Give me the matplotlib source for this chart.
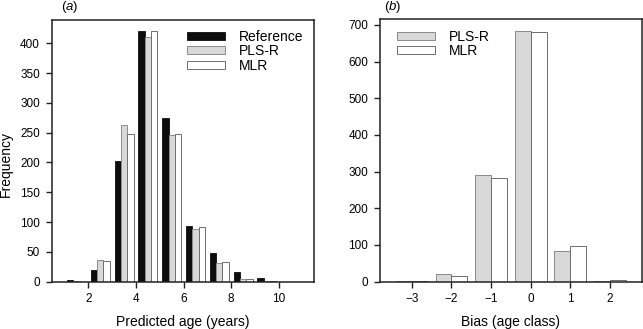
import numpy as np
import matplotlib
matplotlib.use("Agg")
import matplotlib.pyplot as plt

plt.rcParams['font.family'] = ['Liberation Sans', 'DejaVu Sans']
plt.rcParams['mathtext.fontset'] = 'custom'
plt.rcParams['mathtext.rm'] = 'Liberation Sans'
plt.rcParams['mathtext.it'] = 'Liberation Sans:italic'

# (a) predicted age histogram
ages = [1, 2, 3, 4, 5, 6, 7, 8, 9, 10]
ref_counts = [3, 19, 202, 420, 275, 93, 48, 16, 7, 0]
pls_counts = [1, 37, 263, 410, 246, 88, 32, 5, 1, 0]
mlr_counts = [0, 35, 248, 421, 247, 92, 33, 5, 1, 0]
age_ticks = [2, 4, 6, 8, 10]
freq_ticks = [0, 50, 100, 150, 200, 250, 300, 350, 400]

# (b) bias
bias = [-3, -2, -1, 0, 1, 2]
pls_bias = [2, 20, 291, 682, 84, 1]
mlr_bias = [1, 16, 282, 680, 96, 4]
bias_yticks = [0, 100, 200, 300, 400, 500, 600, 700]

BLACK = '#0d0d0d'
GREY = '#d8d8d8'
GREY_EDGE = '#8a8a8a'
WHITE_EDGE = '#6e6e6e'

fig = plt.figure(figsize=(6.43, 3.29), dpi=100)
ax1 = fig.add_axes([0.0804, 0.1438, 0.408, 0.7954])
ax2 = fig.add_axes([0.591, 0.1438, 0.407, 0.7985])


def style(ax):
    for s in ax.spines.values():
        s.set_linewidth(1.1)
        s.set_color('#222222')
    ax.tick_params(direction='out', length=4.5, width=1.0, pad=4,
                   labelsize=8.5, color='#222222')


# panel a
x = np.array(ages, dtype=float)
w = 0.8 / 3
ax1.bar(x + 0.1, ref_counts, width=w, align='edge', color=BLACK,
        edgecolor=BLACK, linewidth=0.6, label='Reference')
ax1.bar(x + 0.1 + w, pls_counts, width=w, align='edge', color=GREY,
        edgecolor=GREY_EDGE, linewidth=0.7, label='PLS-R')
ax1.bar(x + 0.1 + 2 * w, mlr_counts, width=w, align='edge', color='white',
        edgecolor=WHITE_EDGE, linewidth=0.7, label='MLR')
ax1.set_xlim(0.46, 11.48)
ax1.set_ylim(0, 439)
ax1.set_xticks(age_ticks)
ax1.set_yticks(freq_ticks)
style(ax1)
ax1.set_xlabel('Predicted age (years)', fontsize=10, labelpad=7)
ax1.set_ylabel('Frequency', fontsize=10)
ax1.yaxis.set_label_coords(-0.148, 0.45)
ax1.text(0.068, 1.0485, '($\\mathit{a}$)', transform=ax1.transAxes,
         ha='center', va='center', fontsize=9.5)
ax1.legend(loc='upper left', bbox_to_anchor=(0.49, 0.988), frameon=False,
           fontsize=10, handlelength=2.7, handleheight=0.5,
           labelspacing=0.02, handletextpad=1.0, borderpad=0)

# panel b
xb = np.array(bias, dtype=float)
ax2.bar(xb - 0.4, pls_bias, width=0.4, align='edge', color=GREY,
        edgecolor=GREY_EDGE, linewidth=0.7, label='PLS-R')
ax2.bar(xb, mlr_bias, width=0.4, align='edge', color='white',
        edgecolor=WHITE_EDGE, linewidth=0.7, label='MLR')
ax2.set_xlim(-3.8, 2.8)
ax2.set_ylim(0, 716)
ax2.set_xticks(bias)
ax2.set_yticks(bias_yticks)
style(ax2)
ax2.set_xlabel('Bias (age class)', fontsize=10, labelpad=7)
ax2.text(0.049, 1.0445, '($\\mathit{b}$)', transform=ax2.transAxes,
         ha='center', va='center', fontsize=9.5)
ax2.legend(loc='upper left', bbox_to_anchor=(0.038, 0.985), frameon=False,
           fontsize=10, handlelength=2.75, handleheight=0.5,
           labelspacing=0.02, handletextpad=1.0, borderpad=0)

fig.savefig('out.png', dpi=100)
